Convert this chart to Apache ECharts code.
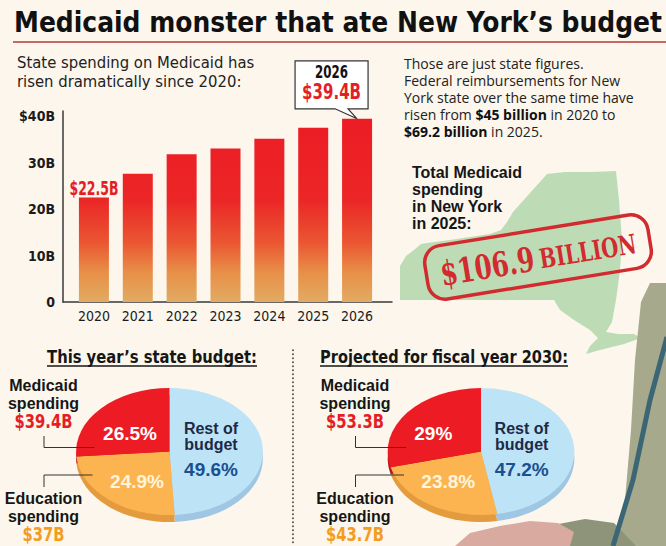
<!DOCTYPE html>
<html>
<head>
<meta charset="utf-8">
<title>Medicaid monster that ate New York's budget</title>
<script src="https://cdn.jsdelivr.net/npm/echarts@6/dist/echarts.min.js"></script>
<style>
  html, body { margin: 0; padding: 0; background: #fcf6ec; }
  #wrap { position: relative; width: 666px; height: 546px; overflow: hidden; background: #fcf6ec; }
  #pies { position: absolute; left: 0; top: 0; width: 453px; height: 546px; transform: scaleX(1.47); transform-origin: 0 0; }
  #main { position: absolute; left: 0; top: 0; width: 666px; height: 546px; }
</style>
</head>
<body>
<div id="wrap">
  <div id="pies"></div>
  <div id="main"></div>
</div>
<script>
// 数据
const years = ['2020', '2021', '2022', '2023', '2024', '2025', '2026'];
const stateSpending = [22.5, 27.6, 31.8, 33.0, 35.1, 37.5, 39.4]; // $B
const yTickLabels = ['0', '10B', '20B', '30B', '$40B'];
const budgetParts = ['Rest of budget', 'Education spending', 'Medicaid spending'];
const budgetNowPct = [49.6, 24.9, 26.5];
const budget2030Pct = [47.2, 23.8, 29];
const budgetNowAmt = [null, 37, 39.4];
const budget2030Amt = [null, 43.7, 53.3];
const fedReimb = [45, 69.2]; // 2020, 2025
const totalMedicaid2025 = 106.9;

// 字体 / 颜色
const COND = '"DejaVu Sans Condensed", "DejaVu Sans", sans-serif';
const SANS = '"Liberation Sans", Arial, sans-serif';
const BODY = '"Open Sans", "Noto Sans", sans-serif';
const SERIF = '"DejaVu Serif Condensed", "DejaVu Serif", serif';
const RED = '#e41e26';
const ORANGE = '#f39c1f';
const INK = '#1b1b1b';

const measureCtx = document.createElement('canvas').getContext('2d');
function measure(text, font) {
  measureCtx.font = font;
  return measureCtx.measureText(text).width;
}

function txt(text, x, y, font, fill, align, extra) {
  return Object.assign({
    type: 'text', x: x, y: y, silent: true,
    style: {
      text: text, font: font, fill: fill,
      align: align || 'center', textAlign: align || 'center',
      verticalAlign: 'middle', textVerticalAlign: 'middle'
    }
  }, extra || {});
}
// 窄体字：按目标宽度横向压缩
function fitTxt(text, x, y, font, fill, width, align) {
  return txt(text, x, y, font, fill, align, { scaleX: width / measure(text, font) });
}
// 一行里粗细混排：[[文字, 字体, 颜色], ...]
function segLine(segs, x, y) {
  let cx = x;
  return segs.map(([t, font, fill]) => {
    const el = txt(t, cx, y, font, fill, 'left');
    cx += measure(t, font);
    return el;
  });
}
function poly(points, fill, z) {
  return { type: 'polygon', silent: true, z: z || 0, shape: { points: points }, style: { fill: fill } };
}
function line(points, stroke, width, dash) {
  return { type: 'polyline', silent: true, shape: { points: points },
    style: { stroke: stroke, lineWidth: width, fill: null, lineDash: dash || null, lineCap: dash ? 'round' : 'butt' } };
}

// ---------- 饼图（椭圆：在横向拉伸的容器里画）----------
const PIE_SX = 1.47;
const pieCenters = [[169.5, 451.5], [481, 451.5]];
const pieR = 63.5, pieDepth = 7;
const faceColors = ['#bde3f7', '#fbb450', '#ed1c24'];
const sideColors = ['#9fc7e4', '#e39b3d', '#b8151c'];

function pieSeries(pcts, c, colors, dy, z) {
  return {
    type: 'pie', silent: true, z: z, radius: pieR,
    center: [c[0] / PIE_SX, c[1] + dy],
    startAngle: 90, clockwise: true,
    label: { show: false }, labelLine: { show: false },
    itemStyle: { borderWidth: 0 },
    data: budgetParts.map((n, i) => ({ name: n, value: pcts[i], itemStyle: { color: colors[i] } }))
  };
}

const pieChart = echarts.init(document.getElementById('pies'), null, { renderer: 'svg' });
pieChart.setOption({
  animation: false,
  series: [
    pieSeries(budgetNowPct, pieCenters[0], sideColors, pieDepth, 1),
    pieSeries(budgetNowPct, pieCenters[0], faceColors, 0, 2),
    pieSeries(budget2030Pct, pieCenters[1], sideColors, pieDepth, 1),
    pieSeries(budget2030Pct, pieCenters[1], faceColors, 0, 2)
  ]
});

// ---------- 主图 ----------
const GRID_TOP = 116, GRID_BOTTOM = 302;
const chart = echarts.init(document.getElementById('main'), null, { renderer: 'svg' });

const axisLineStyle = { color: '#3a3a3a', width: 1.5 };
chart.setOption({
  animation: false,
  backgroundColor: 'transparent',
  grid: [
    { left: 72, top: GRID_TOP, width: 307, height: GRID_BOTTOM - GRID_TOP },
    { left: 63, top: 111, width: 329, height: GRID_BOTTOM - 111 }
  ],
  xAxis: [
    {
      type: 'category', gridIndex: 0, data: years,
      axisLine: { show: false }, axisTick: { show: false },
      axisLabel: { margin: 7, fontFamily: COND, fontSize: 14, color: INK }
    },
    {
      type: 'value', gridIndex: 1, min: 0, max: 1,
      axisLine: { show: true, onZero: false, lineStyle: axisLineStyle },
      axisTick: { show: false }, axisLabel: { show: false }, splitLine: { show: false }
    }
  ],
  yAxis: [
    {
      type: 'value', gridIndex: 0, min: 0, max: 40, interval: 10,
      axisLine: { show: false }, axisTick: { show: false }, splitLine: { show: false },
      axisLabel: {
        margin: 17, fontFamily: COND, fontWeight: 'bold', fontSize: 14, color: INK,
        formatter: v => yTickLabels[Math.round(v / 10)]
      }
    },
    {
      type: 'value', gridIndex: 1, min: 0, max: 1,
      axisLine: { show: true, onZero: false, lineStyle: axisLineStyle },
      axisTick: { show: false }, axisLabel: { show: false }, splitLine: { show: false }
    }
  ],
  series: [{
    type: 'bar', xAxisIndex: 0, yAxisIndex: 0, barWidth: 30, silent: true,
    itemStyle: {
      color: new echarts.graphic.LinearGradient(0, GRID_TOP, 0, GRID_BOTTOM, [
        { offset: 0, color: '#ec1c24' },
        { offset: 0.45, color: '#eb2626' },
        { offset: 0.68, color: '#ea5632' },
        { offset: 0.84, color: '#e88f48' },
        { offset: 1, color: '#e2ab62' }
      ], true)
    },
    data: stateSpending
  }]
});

// 柱顶像素位置（由坐标轴换算）
const firstTop = chart.convertToPixel({ xAxisIndex: 0, yAxisIndex: 0 }, [years[0], stateSpending[0]]);
const lastIdx = stateSpending.length - 1;
const tip = chart.convertToPixel({ xAxisIndex: 0, yAxisIndex: 0 }, [years[lastIdx], stateSpending[lastIdx]]);
const bx0 = tip[0] - 62, bx1 = tip[0] + 11, by0 = tip[1] - 58, by1 = tip[1] - 10;

const graphics = [];

// 纽约州地图（示意）
graphics.push(poly([
  [400, 300], [400, 266], [406, 256], [414, 250], [421, 244], [434, 242], [450, 240], [470, 237],
  [490, 234], [501, 230], [507, 222], [513, 212], [521, 203], [530, 193], [539, 183], [547, 174],
  [565, 172], [592, 172], [616, 171], [619, 200], [622, 240], [620, 270], [616, 300], [612, 322],
  [606, 332], [618, 334], [634, 334], [641, 338], [624, 344], [600, 350], [586, 354], [590, 346],
  [598, 338], [590, 330], [574, 320], [560, 310], [554, 300]
], '#bddcb6', -10));

// 右下角照片（示意）
graphics.push(poly([[650, 283], [641, 302], [635, 360], [631, 430], [625, 500], [618, 546], [666, 546], [666, 283]], '#a6a98b', -5));
graphics.push(poly([[548, 526], [585, 519], [614, 523], [636, 546], [560, 546]], '#8d9479', -4));
graphics.push(poly([[455, 546], [470, 533], [500, 526], [530, 521], [558, 523], [574, 532], [570, 546]], '#d8aaa0', -4));
graphics.push(line([[667, 337], [650, 400], [633, 480], [613, 546]], '#3b6675', 5));

// 标题
const titleText = 'Medicaid monster that ate New York\u2019s budget';
graphics.push(fitTxt(titleText, 14, 22, 'bold 29px ' + COND, '#111', 648, 'left'));
graphics.push(line([[13, 42], [666, 42]], '#b8393b', 1.5));

// 柱状图说明
graphics.push(txt('State spending on Medicaid has', 17, 62, '16.5px ' + COND, '#222', 'left'));
graphics.push(txt('risen dramatically since 2020:', 17, 81, '16.5px ' + COND, '#222', 'left'));

// 2020 柱顶数值
graphics.push(fitTxt('$' + stateSpending[0] + 'B', firstTop[0], firstTop[1] - 9, 'bold 19px ' + COND, RED, 49));

// 标注框
graphics.push({
  type: 'polygon', silent: true,
  shape: { points: [[bx0, by0], [bx1, by0], [bx1, by1], [tip[0] - 9, by1], [tip[0], tip[1]], [tip[0] - 22, by1], [bx0, by1]] },
  style: { fill: '#ffffff', stroke: '#333', lineWidth: 1.2 }
});
graphics.push(fitTxt(years[lastIdx], (bx0 + bx1) / 2, by0 + 12, 'bold 17px ' + COND, '#111', 33));
graphics.push(fitTxt('$' + stateSpending[lastIdx] + 'B', (bx0 + bx1) / 2, by0 + 31, 'bold 22px ' + COND, RED, 59));

// 右侧文字
const bodyFont = '14px ' + BODY, bodyBold = 'bold 14px ' + BODY;
const bodyY = [63.3, 80.4, 97.5, 114.6, 131.7];
graphics.push(txt('Those are just state figures.', 404, bodyY[0], bodyFont, '#222', 'left'));
graphics.push(txt('Federal reimbursements for New', 404, bodyY[1], bodyFont, '#222', 'left'));
graphics.push(txt('York state over the same time have', 404, bodyY[2], bodyFont, '#222', 'left'));
segLine([
  ['risen from ', bodyFont, '#222'],
  ['$' + fedReimb[0] + ' billion', bodyBold, '#111'],
  [' in 2020 to', bodyFont, '#222']
], 404, bodyY[3]).forEach(el => graphics.push(el));
segLine([
  ['$' + fedReimb[1] + ' billion', bodyBold, '#111'],
  [' in 2025.', bodyFont, '#222']
], 404, bodyY[4]).forEach(el => graphics.push(el));

['Total Medicaid', 'spending', 'in New York', 'in 2025:'].forEach((t, i) => {
  graphics.push(txt(t, 412, 172 + i * 17, 'bold 16px ' + SANS, '#161616', 'left'));
});

// 印章
const stampA = '$' + totalMedicaid2025, stampB = 'BILLION';
const stampFontA = 'bold 34px ' + SERIF, stampFontB = 'bold 27px ' + SERIF;
const stampW = measure(stampA, stampFontA) + measure('  ' + stampB, stampFontB);
graphics.push({
  type: 'group', x: 538, y: 257, rotation: 0.16, silent: true,
  children: [
    { type: 'rect', shape: { x: -113, y: -27, width: 226, height: 54, r: 17 },
      style: { fill: null, stroke: '#d22a2f', lineWidth: 3.5 } },
    { type: 'text', x: 0, y: 1, scaleX: 206 / stampW,
      style: {
        text: '{a|' + stampA + '}  {b|' + stampB + '}',
        align: 'center', textAlign: 'center', verticalAlign: 'middle', textVerticalAlign: 'middle',
        rich: {
          a: { font: stampFontA, fill: '#d22a2f' },
          b: { font: stampFontB, fill: '#d22a2f', padding: [3, 0, 0, 0] }
        }
      } }
  ]
});

// 饼图标题、分隔线
const secFont = 'bold 18px ' + COND;
[['This year\u2019s state budget:', 152, 210], ['Projected for fiscal year 2030:', 444, 248]].forEach(([t, cx, w]) => {
  graphics.push(fitTxt(t, cx, 357, secFont, '#161616', w));
  graphics.push(line([[cx - w / 2, 366], [cx + w / 2, 366]], '#161616', 1.5));
});
graphics.push(line([[293, 350], [293, 546]], '#333', 1.6, [0.5, 3.5]));

// 饼图标签
const pctFont = 'bold 19px ' + SANS;
const lblFont = 'bold 16px ' + SANS;
const amtFont = 'bold 19px ' + COND;
const amtScale = 58 / measure('$' + budgetNowAmt[2] + 'B', amtFont);
function amtTxt(text, x, y, fill) {
  return txt(text, x, y, amtFont, fill, 'center', { scaleX: amtScale });
}
const pieLabelPos = [
  { med: [-39.5, 433], edu: [-32.5, 481.5], rest: 41.5 },
  { med: [-47.7, 433], edu: [-32.7, 481], rest: 40.7 }
];
[[budgetNowPct, budgetNowAmt], [budget2030Pct, budget2030Amt]].forEach(([pct, amt], k) => {
  const cx = pieCenters[k][0];
  const p = pieLabelPos[k];
  graphics.push(txt(pct[2] + '%', cx + p.med[0], p.med[1], pctFont, '#ffffff'));
  graphics.push(txt(pct[1] + '%', cx + p.edu[0], p.edu[1], pctFont, '#fff4dc'));
  graphics.push(txt('Rest of', cx + p.rest, 428, lblFont, '#1d2a44'));
  graphics.push(txt('budget', cx + p.rest, 444, lblFont, '#1d2a44'));
  graphics.push(txt(pct[0] + '%', cx + p.rest, 469, pctFont, '#1b4f8f'));

  const lx = cx - 126;
  graphics.push(txt('Medicaid', lx, 385, lblFont, '#161616'));
  graphics.push(txt('spending', lx, 403, lblFont, '#161616'));
  graphics.push(amtTxt('$' + amt[2] + 'B', lx, 422, RED));
  graphics.push(txt('Education', lx, 498, lblFont, '#161616'));
  graphics.push(txt('spending', lx, 516, lblFont, '#161616'));
  graphics.push(amtTxt('$' + amt[1] + 'B', lx, 535, ORANGE));
  graphics.push(line([[lx + 0.5, 436], [lx + 0.5, 447.5], [cx - 75, 447.5]], '#333', 1));
  graphics.push(line([[lx + 0.5, 487], [lx + 0.5, 475], [cx - 77, 475]], '#333', 1));
});

chart.setOption({ graphic: graphics });
</script>
</body>
</html>
